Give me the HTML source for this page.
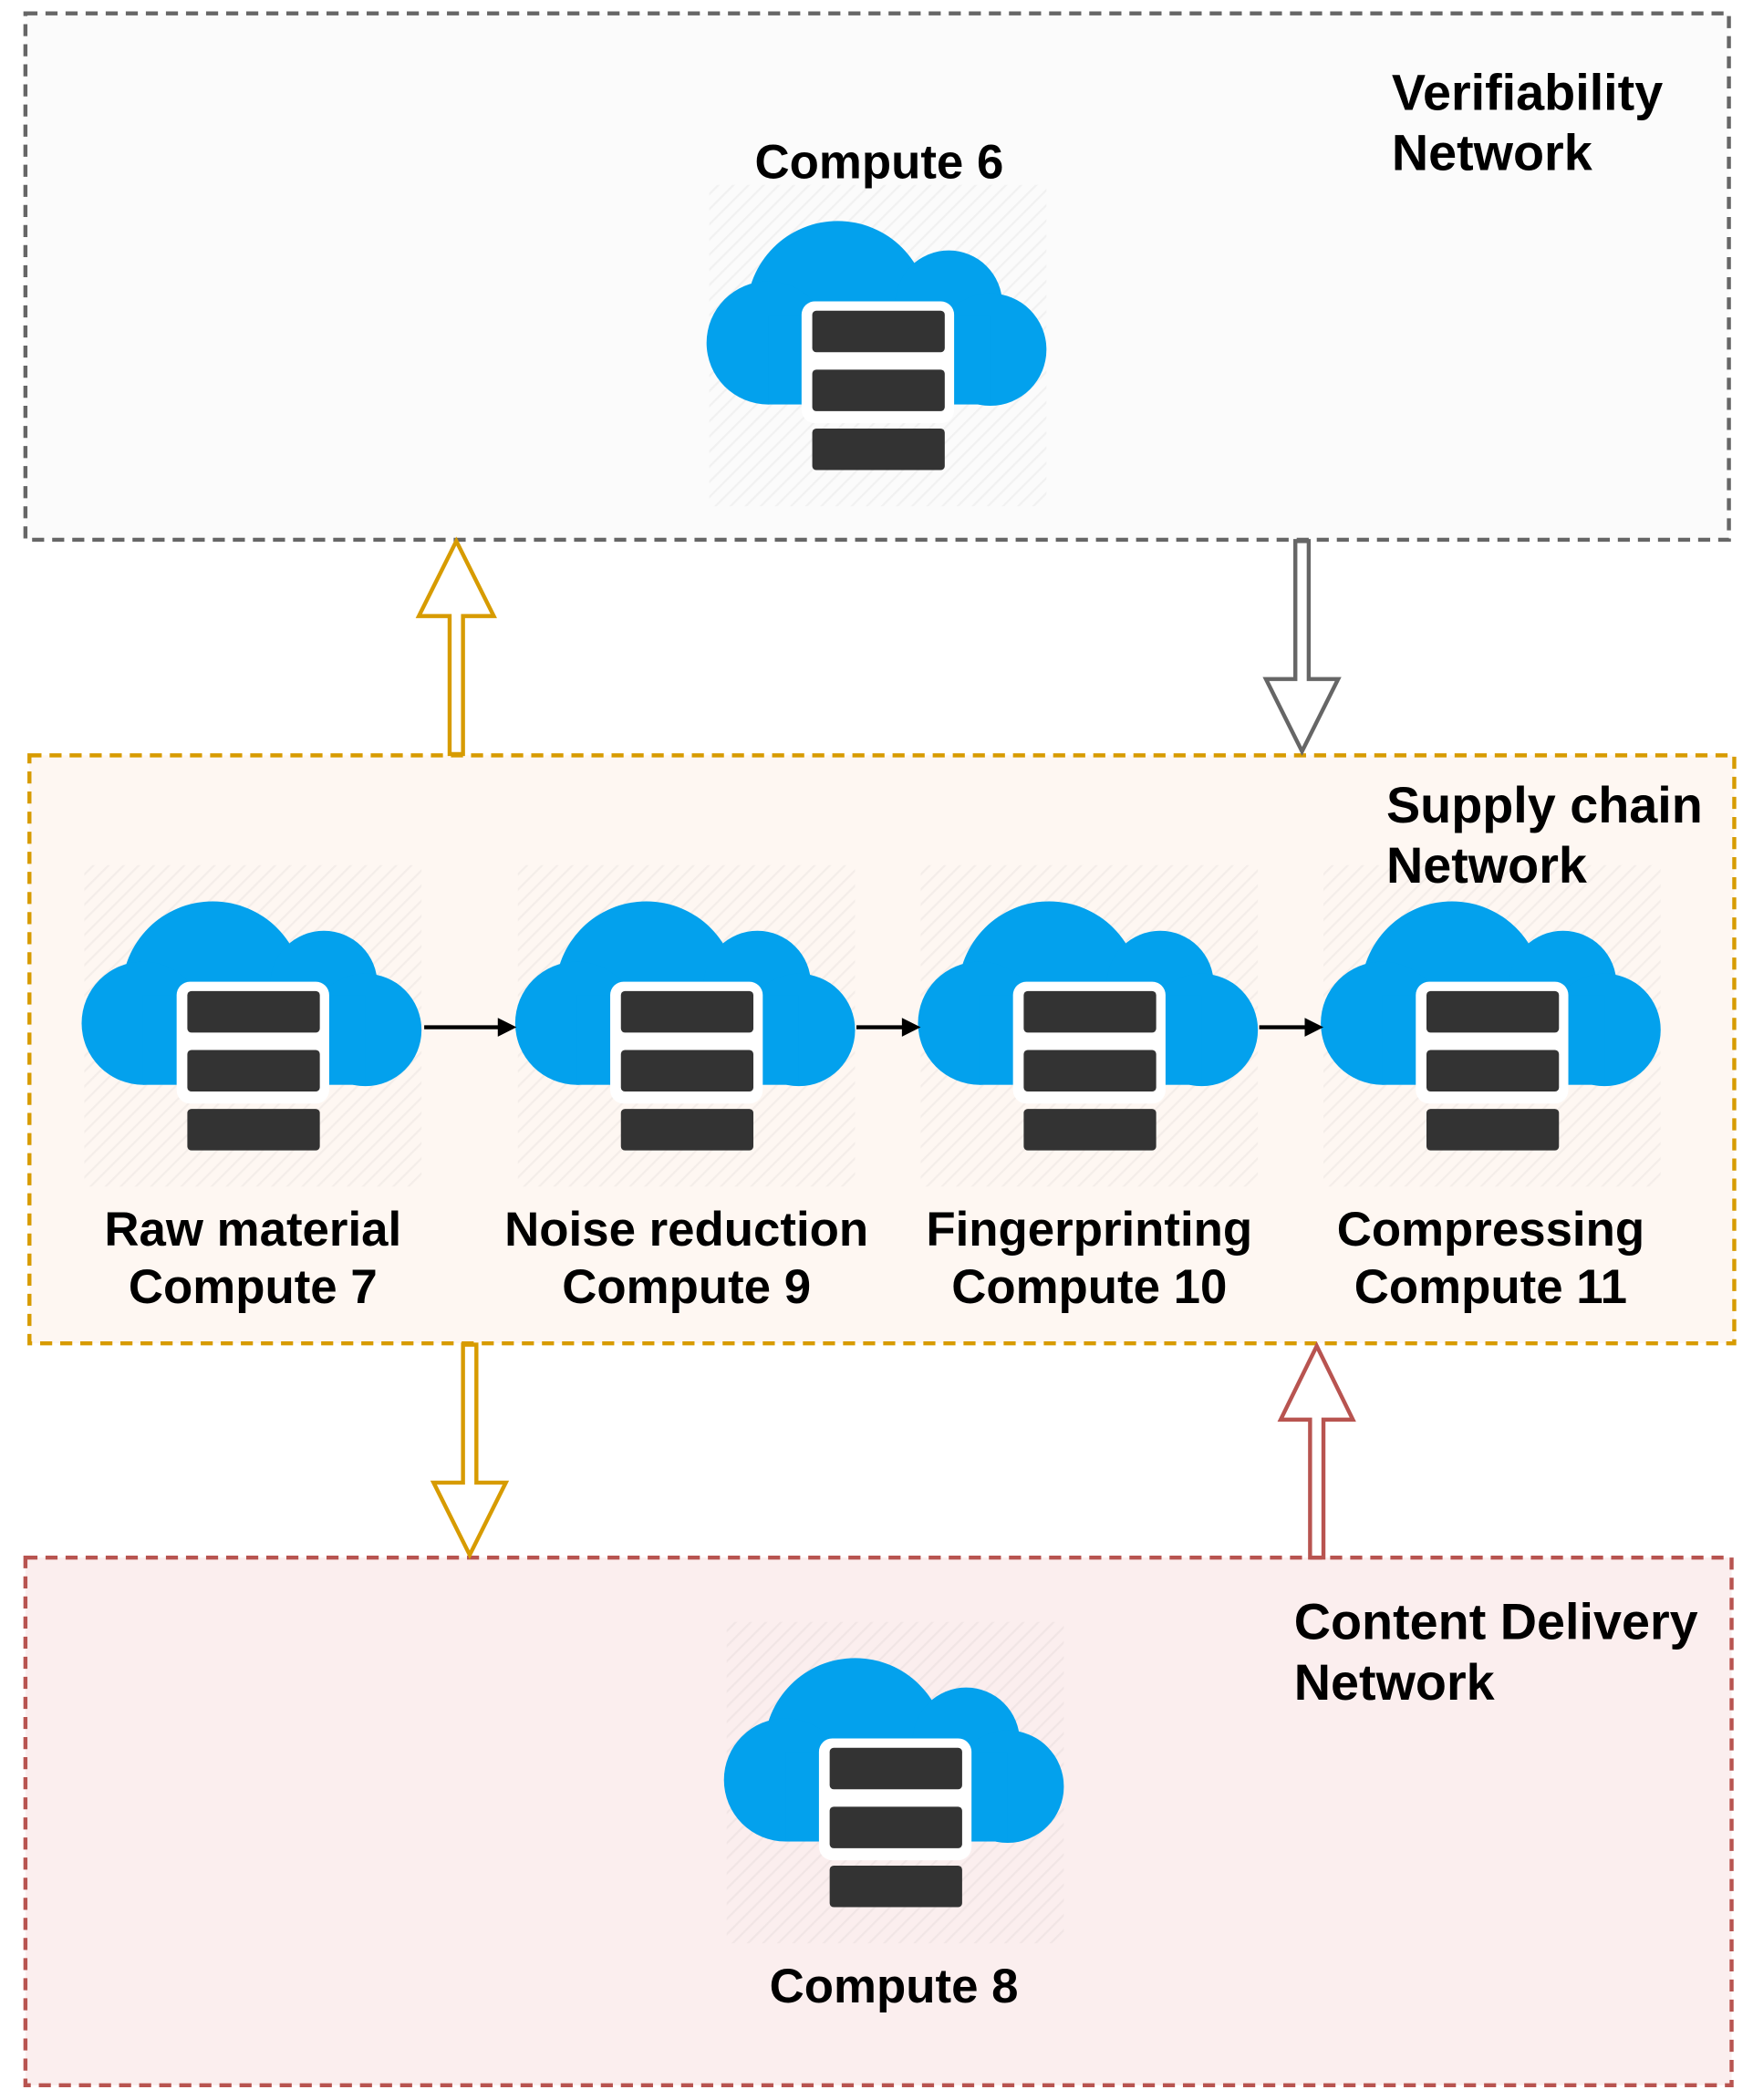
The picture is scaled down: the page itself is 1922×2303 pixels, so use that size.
<!DOCTYPE html>
<html><head><meta charset="utf-8"><style>
html,body{margin:0;padding:0;background:#fff}
svg{display:block}
text{font-family:"Liberation Sans",Arial,sans-serif;font-weight:bold;font-size:36px;fill:#000}
text.t{font-size:38px}
</style></head><body>
<svg width="1922" height="2303" viewBox="0 0 1310 1568" preserveAspectRatio="none" xmlns="http://www.w3.org/2000/svg">
<defs>
<pattern id="h" width="8" height="8" patternUnits="userSpaceOnUse" patternTransform="rotate(45)">
<rect width="8" height="8" fill="none"/><line x1="0" y1="0" x2="0" y2="8" stroke="#000" stroke-opacity="0.04" stroke-width="3"/>
</pattern>
<g id="c">
<rect x="-126" y="-27" width="252" height="240" fill="url(#h)"/>
<circle cx="-30" cy="68" r="68" fill="#03a1ed"/>
<circle cx="53" cy="62" r="40" fill="#03a1ed"/>
<circle cx="-82" cy="91" r="46" fill="#03a1ed"/>
<circle cx="84" cy="96" r="42" fill="#03a1ed"/>
<rect x="-82" y="70" width="166" height="67" fill="#03a1ed"/>
<rect x="-57" y="60" width="114" height="91" rx="10" fill="#fff"/>
<rect x="-49" y="67" width="99" height="31" rx="3" fill="#333"/>
<rect x="-49" y="111" width="99" height="31" rx="3" fill="#333"/>
<rect x="-49" y="155" width="99" height="31" rx="3" fill="#333"/>
</g>
</defs>
<rect x="19" y="10" width="1273" height="393" fill="#fbfbfb" stroke="#666" stroke-width="3" stroke-dasharray="9,6"/>
<rect x="22" y="564" width="1274" height="439" fill="#fef7f2" stroke="#d79b00" stroke-width="3" stroke-dasharray="9,6"/>
<rect x="19" y="1163" width="1275" height="394" fill="#fbeeee" stroke="#b85450" stroke-width="3" stroke-dasharray="9,6"/>

<use href="#c" x="656" y="165"/>
<use href="#c" x="189" y="673"/>
<use href="#c" x="513" y="673"/>
<use href="#c" x="814" y="673"/>
<use href="#c" x="1115" y="673"/>
<use href="#c" x="669" y="1238"/>

<g stroke="#000" stroke-width="3"><line x1="317" y1="767" x2="375" y2="767"/><line x1="640" y1="767" x2="677" y2="767"/><line x1="941" y1="767" x2="978" y2="767"/></g>
<g fill="#000"><path d="M386 767 l-14 -7 v14z"/><path d="M688 767 l-14 -7 v14z"/><path d="M989 767 l-14 -7 v14z"/></g>

<path d="M336 563 V460 H313 L341 404 L369 460 H346 V563 Z" fill="#fff" stroke="#d79b00" stroke-width="3"/>
<path d="M968 404 V507 H946 L973 561 L1000 507 H978 V404 Z" fill="#fff" stroke="#666" stroke-width="3"/>
<path d="M346 1004 V1107 H324 L351 1161 L378 1107 H356 V1004 Z" fill="#fff" stroke="#d79b00" stroke-width="3"/>
<path d="M979 1163 V1060 H957 L984 1005 L1011 1060 H989 V1163 Z" fill="#fff" stroke="#b85450" stroke-width="3"/>

<text x="657" y="133" text-anchor="middle">Compute 6</text>
<text class="t" x="1040" y="82">Verifiability</text>
<text class="t" x="1040" y="127">Network</text>
<text class="t" x="1036" y="614">Supply chain</text>
<text class="t" x="1036" y="659">Network</text>
<g text-anchor="middle">
<text x="189" y="930">Raw material</text><text x="189" y="973">Compute 7</text>
<text x="513" y="930">Noise reduction</text><text x="513" y="973">Compute 9</text>
<text x="814" y="930">Fingerprinting</text><text x="814" y="973">Compute 10</text>
<text x="1114" y="930">Compressing</text><text x="1114" y="973">Compute 11</text>
<text x="668" y="1495">Compute 8</text>
</g>
<text class="t" x="967" y="1224">Content Delivery</text>
<text class="t" x="967" y="1269">Network</text>
</svg>
</body></html>
